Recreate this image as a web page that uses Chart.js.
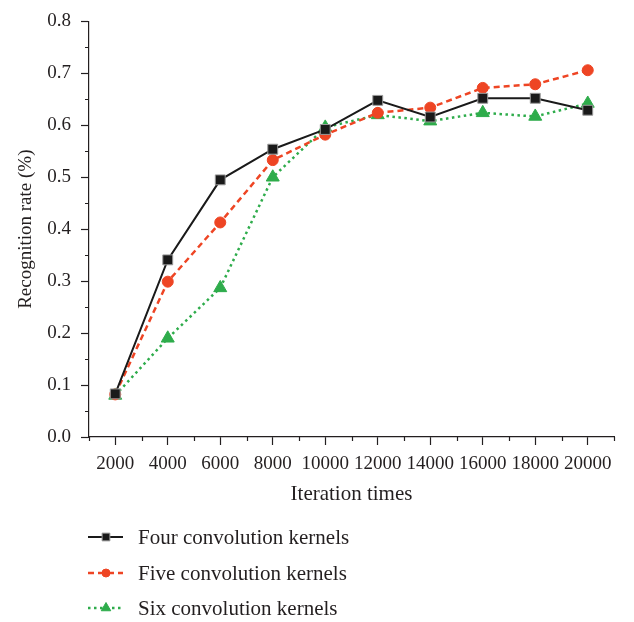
<!DOCTYPE html>
<html>
<head>
<meta charset="utf-8">
<script src="https://cdn.jsdelivr.net/npm/chart.js@4/dist/chart.umd.min.js"></script>
<style>
  body { margin: 0; background: #fff; }
  canvas { display: block; }
</style>
</head>
<body>
<canvas id="canvas" width="634" height="622"></canvas>
<script>
// iterations on the x axis
var iterations = [2000, 4000, 6000, 8000, 10000, 12000, 14000, 16000, 18000, 20000];

// recognition rate for each number of kernels
var fourKernels = [0.083, 0.341, 0.495, 0.554, 0.592, 0.648, 0.616, 0.652, 0.652, 0.629];
var fiveKernels = [0.082, 0.299, 0.413, 0.533, 0.582, 0.624, 0.634, 0.672, 0.679, 0.706];
var sixKernels  = [0.080, 0.190, 0.287, 0.500, 0.596, 0.620, 0.608, 0.624, 0.617, 0.642];

var seriesNames = ['Four convolution kernels', 'Five convolution kernels', 'Six convolution kernels'];

var FONT = '"Liberation Serif", "DejaVu Serif", serif';
var INK = '#231f20';

//build {x,y} points
function toPoints(vals){
    return vals.map(function(v, i){
        return { x: iterations[i], y: v };
    });
}

function isMajorY(v){ return Math.abs(Math.round(v * 10) - v * 10) < 1e-6; }
function isMajorX(v){ return Math.round(v) % 2000 === 0; }

// minor ticks (shorter) drawn by hand, plus the vertical legend
var extras = {
    id: 'extras',
    afterDraw: function(chart){
        var ctx = chart.ctx;
        var xs = chart.scales.x, ys = chart.scales.y;
        var area = chart.chartArea;
        ctx.save();
        ctx.strokeStyle = INK;
        ctx.lineWidth = 1.2;
        ctx.beginPath();
        xs.ticks.forEach(function(t){
            if (!isMajorX(t.value)) {
                var px = Math.round(xs.getPixelForValue(t.value)) + 0.5;
                ctx.moveTo(px, area.bottom);
                ctx.lineTo(px, area.bottom + 4);
            }
        });
        ys.ticks.forEach(function(t){
            if (!isMajorY(t.value)) {
                var py = Math.round(ys.getPixelForValue(t.value)) + 0.5;
                ctx.moveTo(area.left, py);
                ctx.lineTo(area.left - 4, py);
            }
        });
        ctx.stroke();

        // legend
        var lx = area.left - 1;
        var rows = [area.bottom + 100, area.bottom + 136, area.bottom + 171];
        chart.data.datasets.forEach(function(ds, i){
            var y = rows[i];
            ctx.save();
            ctx.strokeStyle = ds.borderColor;
            ctx.lineWidth = ds.borderWidth;
            ctx.setLineDash(ds.borderDash || []);
            ctx.beginPath();
            ctx.moveTo(lx, y);
            ctx.lineTo(lx + 35, y);
            ctx.stroke();
            ctx.setLineDash([]);
            ctx.fillStyle = ds.pointBackgroundColor;
            ctx.strokeStyle = ds.pointBorderColor;
            ctx.lineWidth = 1;
            Chart.helpers.drawPoint(ctx, {
                pointStyle: ds.pointStyle,
                rotation: 0,
                borderWidth: 1,
                radius: ds.pointStyle === 'rect' ? 5.5 : (ds.pointStyle === 'circle' ? 4 : 5.5)
            }, lx + 18, y);
            ctx.fillStyle = INK;
            ctx.font = '21px ' + FONT;
            ctx.textBaseline = 'middle';
            ctx.fillText(seriesNames[i], lx + 50, y + 1);
            ctx.restore();
        });
        ctx.restore();
    }
};

var ctx = document.getElementById('canvas').getContext('2d');
var chart = new Chart(ctx, {
    type: 'line',
    data: {
        datasets: [{
            label: seriesNames[0],
            data: toPoints(fourKernels),
            borderColor: '#1a1a1a',
            borderWidth: 2,
            pointStyle: 'rect',
            pointRadius: 7,
            pointBackgroundColor: '#1a1a1a',
            pointBorderColor: '#9a9a9a',
            pointBorderWidth: 1,
            tension: 0
        }, {
            label: seriesNames[1],
            data: toPoints(fiveKernels),
            borderColor: '#ee4524',
            borderWidth: 2.5,
            borderDash: [6, 4],
            pointStyle: 'circle',
            pointRadius: 5.5,
            pointBackgroundColor: '#ee4524',
            pointBorderColor: '#ee4524',
            pointBorderWidth: 1,
            tension: 0
        }, {
            label: seriesNames[2],
            data: toPoints(sixKernels),
            borderColor: '#2eac4b',
            borderWidth: 2.5,
            borderDash: [2.5, 3.5],
            pointStyle: 'triangle',
            pointRadius: 7.5,
            pointBackgroundColor: '#2eac4b',
            pointBorderColor: '#2eac4b',
            pointBorderWidth: 1,
            tension: 0
        }]
    },
    options: {
        responsive: false,
        animation: false,
        layout: { padding: { top: 14, right: 20, bottom: 115, left: 0 } },
        plugins: {
            legend: { display: false },
            tooltip: { enabled: false }
        },
        scales: {
            x: {
                type: 'linear',
                min: 1000,
                max: 21000,
                afterFit: function(scale){ scale.height = 70; },
                border: { display: true, color: INK, width: 1.2 },
                grid: {
                    drawOnChartArea: false,
                    tickLength: 8,
                    tickWidth: 1.2,
                    tickColor: function(c){ return isMajorX(c.tick.value) ? INK : 'rgba(0,0,0,0)'; }
                },
                ticks: {
                    stepSize: 1000,
                    autoSkip: false,
                    maxRotation: 0,
                    padding: 8,
                    color: INK,
                    font: { family: FONT, size: 19 },
                    callback: function(v){ return isMajorX(v) ? String(v) : ''; }
                },
                title: {
                    display: true,
                    text: 'Iteration times',
                    color: INK,
                    font: { family: FONT, size: 21 },
                    padding: { top: 0, bottom: 0 }
                }
            },
            y: {
                min: 0,
                max: 0.8,
                afterFit: function(scale){ scale.width = 89; },
                border: { display: true, color: INK, width: 1.2 },
                grid: {
                    drawOnChartArea: false,
                    tickLength: 8,
                    tickWidth: 1.2,
                    tickColor: function(c){ return isMajorY(c.tick.value) ? INK : 'rgba(0,0,0,0)'; }
                },
                ticks: {
                    stepSize: 0.05,
                    autoSkip: false,
                    padding: 10,
                    color: INK,
                    font: { family: FONT, size: 19 },
                    callback: function(v){ return isMajorY(v) ? v.toFixed(1) : ''; }
                },
                title: {
                    display: true,
                    text: 'Recognition rate (%)',
                    color: INK,
                    font: { family: FONT, size: 19 },
                    padding: { top: 15, bottom: 0 }
                }
            }
        }
    },
    plugins: [extras]
});
</script>
</body>
</html>
